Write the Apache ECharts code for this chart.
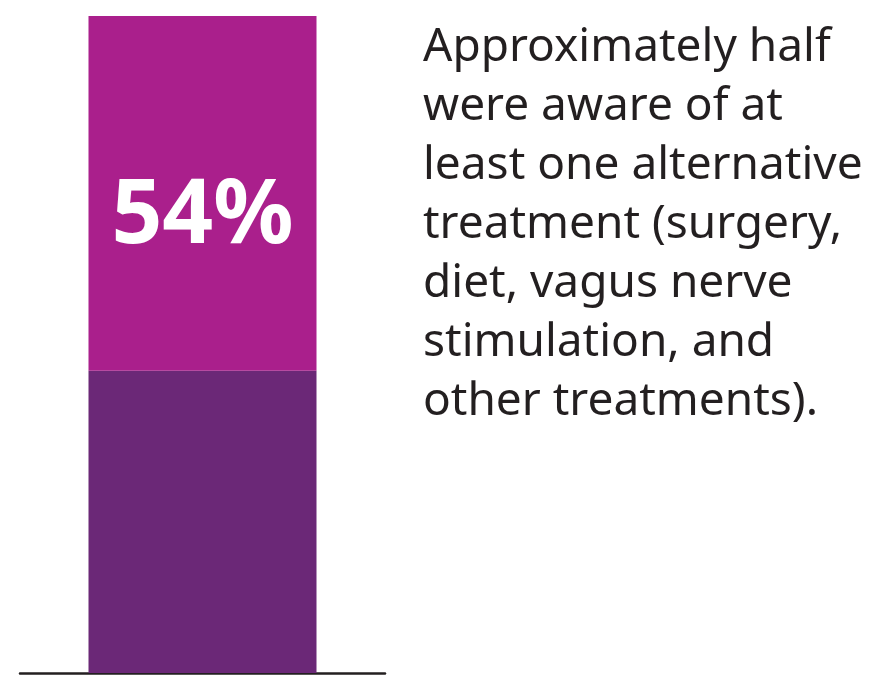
<!DOCTYPE html>
<html>
<head>
<meta charset="utf-8">
<script src="https://cdn.jsdelivr.net/npm/echarts@6/dist/echarts.min.js"></script>
<style>
html,body{margin:0;padding:0;background:#fff;}
#chart{width:876px;height:675px;}
</style>
</head>
<body>
<div id="chart"></div>
<script>
const categories = ['Respondents'];
const awareValues = [54];
const notAwareValues = [46];
const valueLabels = ['54%'];
const noteLines = [
  'Approximately half',
  'were aware of at',
  'least one alternative',
  'treatment (surgery,',
  'diet, vagus nerve',
  'stimulation, and',
  'other treatments).'
];

const textFont = '"Noto Sans", "Open Sans", sans-serif';
// fit the widest note line to the reference width
const ctx = document.createElement('canvas').getContext('2d');
ctx.font = '100px "Noto Sans"';
let maxW = 0;
noteLines.forEach(l => { maxW = Math.max(maxW, ctx.measureText(l).width); });
const noteSize = Math.round(100 * 440 / maxW * 10) / 10;

const chart = echarts.init(document.getElementById('chart'), null, {renderer: 'canvas'});
chart.setOption({
  backgroundColor: '#ffffff',
  animation: false,
  grid: {left: 20, right: 491, top: 16, bottom: 2},
  xAxis: {
    type: 'category',
    data: categories,
    axisLine: {show: true, lineStyle: {color: '#231f20', width: 2.5}},
    axisTick: {show: false},
    axisLabel: {show: false}
  },
  yAxis: {
    type: 'value',
    min: 0,
    max: 100,
    show: false,
    splitLine: {show: false}
  },
  series: [
    {
      type: 'bar',
      stack: 'total',
      data: notAwareValues,
      barWidth: 228,
      itemStyle: {color: '#6b2877'}
    },
    {
      type: 'bar',
      stack: 'total',
      data: awareValues,
      barWidth: 228,
      itemStyle: {color: '#aa1f8c'},
      label: {
        show: true,
        position: 'inside',
        offset: [0, 24],
        formatter: p => valueLabels[p.dataIndex],
        color: '#ffffff',
        fontFamily: textFont,
        fontWeight: 'bold',
        fontSize: 89
      }
    }
  ],
  graphic: [{
    type: 'text',
    left: 423,
    top: 18,
    style: {
      text: noteLines.join('\n'),
      fill: '#231f20',
      font: noteSize + 'px ' + textFont,
      lineHeight: 59
    }
  }]
});
</script>
</body>
</html>
